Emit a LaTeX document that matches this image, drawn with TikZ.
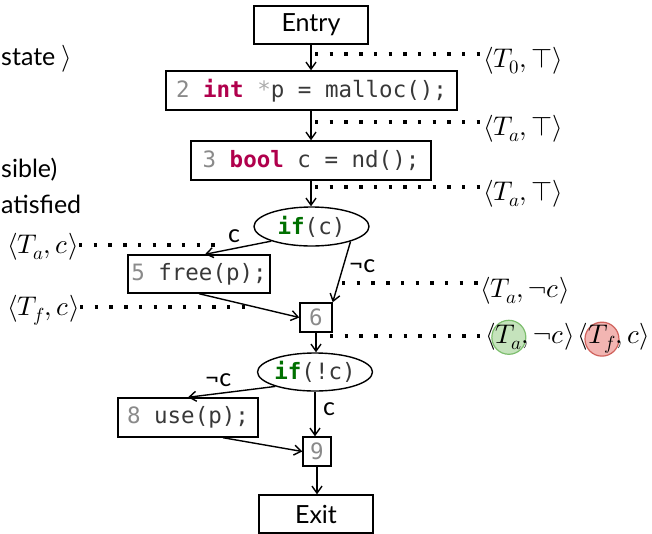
\documentclass[tikz,border=0pt]{standalone}
\usepackage{fontspec}
\usepackage{unicode-math}
\setmainfont{Lato}
\setmonofont{DejaVu Sans Mono}
\setmathfont{Latin Modern Math}
\usetikzlibrary{arrows.meta,shapes.geometric,calc}
\definecolor{kw}{HTML}{B0004C}
\definecolor{kif}{HTML}{007000}
\definecolor{lno}{HTML}{8A8A8A}
\definecolor{star}{HTML}{ABABAB}
\definecolor{codec}{HTML}{383838}
\definecolor{gfill}{HTML}{C5E3BC}
\definecolor{gline}{HTML}{7DBE6E}
\definecolor{rfill}{HTML}{F2B5B2}
\definecolor{rline}{HTML}{D0625C}
\newcommand\cfgcode{\ttfamily\fontsize{22.5}{26}\selectfont}
\newcommand\cfgtext{\fontsize{25}{29}\selectfont}
\newcommand\cfgmath{\fontsize{27}{31}\selectfont}
\newcommand\hlmark[3]{\tikz[baseline=(hm.base)]{\path[fill=#1,draw=#2,line width=1.2pt,overlay] (0,0) circle[radius=17pt]; \node[anchor=center,inner sep=0pt,outer sep=0pt,draw=none,fill=none] (hm) at (0,0) {$#3$};}}
\begin{document}
\begin{tikzpicture}[x=1pt,y=-1pt,
  box/.style={draw, line width=1.4pt, inner sep=0pt, font=\cfgcode, text=codec},
  ell/.style={draw, ellipse, line width=1.4pt, inner sep=0pt, font=\cfgcode, text=codec},
  edge/.style={line width=1.4pt, -{Straight Barb[length=7pt,width=10pt]}},
  dotl/.style={line width=3.4pt, dash pattern=on 3.4pt off 11.3pt},
  lbl/.style={font=\cfgmath, inner sep=0pt},
  elbl/.style={font=\cfgtext, inner sep=0pt},
  side/.style={font=\cfgtext, inner sep=0pt}]
\useasboundingbox (0,0) rectangle (652,533);

% left clipped legend text
\node[side, anchor=base west] (lg1) at (1,65) {state {\cfgmath$\rangle$}};
\node[side, anchor=base west] (lg2) at (1,177) {sible)};
\node[side, anchor=base west] (lg3) at (1,213) {atisfied};

% CFG nodes
\node[box, minimum width=114pt, minimum height=38pt, font=\cfgtext, text=black] (entry) at (311,25) {Entry};
\node[box, minimum width=291pt, minimum height=39pt] (s2) at (311.5,90.5) {\textcolor{lno}{2} \textcolor{kw}{\textbf{int}} \textcolor{star}{*}p = malloc();};
\node[box, minimum width=240pt, minimum height=39pt] (s3) at (311,160.5) {\textcolor{lno}{3} \textcolor{kw}{\textbf{bool}} c = nd();};
\node[ell, minimum width=115pt, minimum height=39pt] (ifc) at (311.5,226.5) {\textcolor{kif}{\textbf{if}}(c)};
\node[box, minimum width=142pt, minimum height=38pt] (s5) at (199,274) {\textcolor{lno}{5} free(p);};
\node[box, minimum width=32pt, minimum height=29pt] (s6) at (316,317.5) {\textcolor{lno}{6}};
\node[ell, minimum width=114pt, minimum height=38pt] (ifnc) at (315,372) {\textcolor{kif}{\textbf{if}}(!c)};
\node[box, minimum width=140pt, minimum height=39pt] (s8) at (188,417.5) {\textcolor{lno}{8} use(p);};
\node[box, minimum width=28pt, minimum height=29pt] (s9) at (317,451.5) {\textcolor{lno}{9}};
\node[box, minimum width=114pt, minimum height=38pt, font=\cfgtext, text=black] (exit) at (316,514) {Exit};

% edges
\draw[edge] (entry.south) -- (entry.south |- s2.north);
\draw[edge] (entry.south |- s2.south) -- (entry.south |- s3.north);
\draw[edge] (entry.south |- s3.south) -- (entry.south |- ifc.north);
\draw[edge] (ifc.-160) -- ([xshift=6pt]s5.north);
\draw[edge] (ifc.-21) -- (s6.north east);
\draw[edge] (s5.south) -- (s6.west);
\draw[edge] (s6.south) -- (s6.south |- ifnc.north);
\draw[edge] (ifnc.-160) -- (s8.north);
\draw[edge] (ifnc.south) -- (ifnc.south |- s9.north);
\draw[edge] ([xshift=35pt]s8.south) -- (s9.west);
\draw[edge] (s9.south) -- (s9.south |- exit.north);

% edge labels
\node[elbl] (lc1) at (234,236) {c};
\node[elbl] (lc2) at (362,266) {¬c};
\node[elbl] (lc3) at (218,380) {¬c};
\node[elbl] (lc4) at (329,409) {c};

% state labels and dotted leaders
\node[lbl, anchor=base west] (t1) at (483,67) {$\langle T_0,\top\rangle$};
\node[lbl, anchor=base west] (t2) at (483,135) {$\langle T_a,\top\rangle$};
\node[lbl, anchor=base west] (t3) at (483,200) {$\langle T_a,\top\rangle$};
\node[lbl, anchor=base west] (t4) at (480,297) {$\langle T_a,\neg c\rangle$};
\node[lbl, anchor=base west] (t5) at (485,343) {$\langle\hlmark{gfill}{gline}{T_a}, \neg c\rangle\hspace{3pt}\langle\hlmark{rfill}{rline}{T_f}, c\rangle$};
\node[lbl, anchor=base east] (t6) at (79,253) {$\langle T_a,c\rangle$};
\node[lbl, anchor=base east] (t7) at (80,315) {$\langle T_f,c\rangle$};

\coordinate (d1) at (315,54);
\coordinate (d2) at (315,122);
\coordinate (d3) at (315,187);
\coordinate (d4) at (342,283);
\coordinate (d5) at (330,336);
\coordinate (d6) at (224,245);
\coordinate (d7) at (252,307);
\draw[dotl] (d1) -- (d1 -| t1.west);
\draw[dotl] (d2) -- (d2 -| t2.west);
\draw[dotl] (d3) -- (d3 -| t3.west);
\draw[dotl] (d4) -- (d4 -| t4.west);
\draw[dotl] (d5) -- (d5 -| t5.west);
\draw[dotl] (d6 -| t6.east) -- (d6);
\draw[dotl] (d7 -| t7.east) -- (d7);
\end{tikzpicture}
\end{document}
